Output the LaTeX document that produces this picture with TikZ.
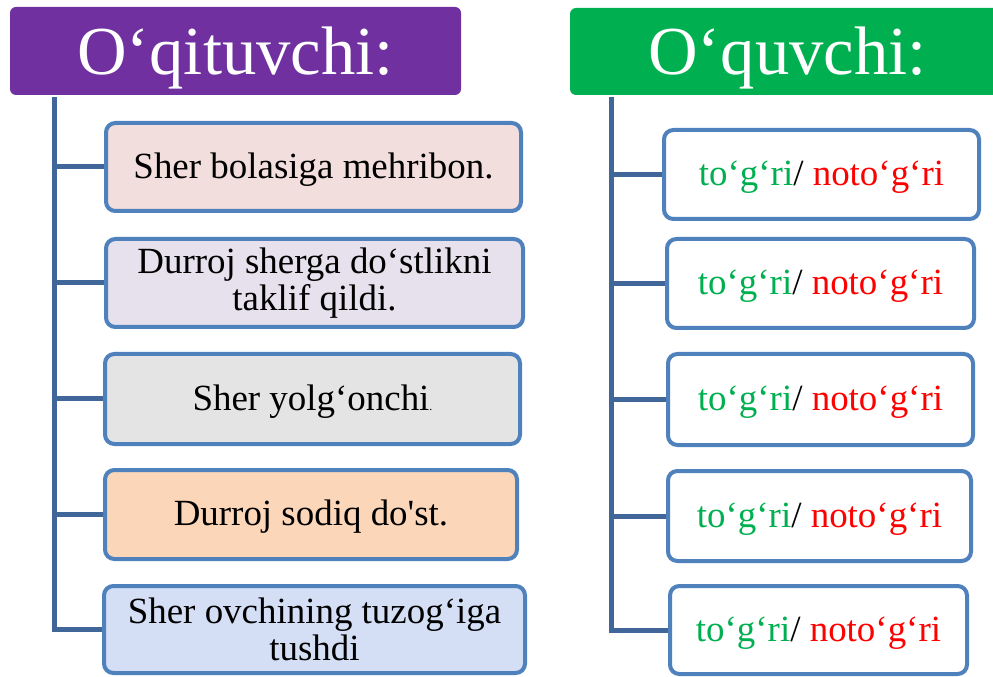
\documentclass[tikz,border=0pt]{standalone}
\usepackage{fontspec}
\setmainfont{Liberation Serif}[Ligatures=TeXOff]
\definecolor{hdrpurple}{HTML}{7030A0}
\definecolor{hdrgreen}{HTML}{00B050}
\definecolor{boxborder}{HTML}{4F81BD}
\definecolor{treeline}{HTML}{41679A}
\definecolor{fillpink}{HTML}{F2DEDD}
\definecolor{filllav}{HTML}{E6E1EC}
\definecolor{fillmarble}{HTML}{E4E4E4}
\definecolor{fillpeach}{HTML}{FBD6B9}
\definecolor{fillblue}{HTML}{D4DEF4}
\definecolor{okgreen}{HTML}{00B050}
\definecolor{badred}{HTML}{FF0000}
\begin{document}
\begin{tikzpicture}[x=0.75pt,y=-0.75pt,
  header/.style={fill=#1, rounded corners=4.5pt, text=white, inner sep=0pt,
    font=\fontsize{51.5}{56}\selectfont, text height=35pt, text depth=0pt},
  sz/.style 2 args={minimum width=#1*0.75pt, minimum height=#2*0.75pt},
  item/.style={draw=boxborder, line width=3pt, rounded corners=7pt, fill=#1,
    inner sep=0pt, align=center, font=\fontsize{27.7}{28.2}\selectfont},
  oneline/.style={text height=17pt, text depth=0pt},
  tree/.style={draw=treeline, line width=3.75pt}
]
\clip (0,0) rectangle (993,677);
% headers
\node[header=hdrpurple, sz={451}{88}] (hl) at (235.5,51) {O‘qituvchi:};
\node[header=hdrgreen, sz={435}{87}] (hr) at (787.5,51.5) {O‘quvchi:};
% left boxes
\node[item=fillpink, sz={415}{88}, oneline] (l1) at (313.5,167) {Sher bolasiga mehribon.};
\node[item=filllav, sz={417}{88}] (l2) at (314.5,283) {Durroj sherga do‘stlikni\\taklif qildi.};
\node[item=fillmarble, sz={415}{90}, oneline] (l3) at (312.5,399) {Sher yolg‘onchi{\fontsize{9}{10}\selectfont.}};
\node[item=fillpeach, sz={412}{89}, oneline] (l4) at (311,514.5) {Durroj sodiq do'st.};
\node[item=fillblue, sz={421}{87}] (l5) at (314.5,629.5) {Sher ovchining tuzog‘iga\\tushdi};
% right boxes
\newcommand{\tgnt}{\textcolor{okgreen}{to‘g‘ri}/ \textcolor{badred}{noto‘g‘ri}}
\node[item=white, sz={315}{89}, oneline] (r1) at (821.5,174.5) {\tgnt};
\node[item=white, sz={307}{89}, oneline] (r2) at (820.5,283.5) {\tgnt};
\node[item=white, sz={305}{91}, oneline] (r3) at (820.5,399.5) {\tgnt};
\node[item=white, sz={303}{90}, oneline] (r4) at (819.5,516) {\tgnt};
\node[item=white, sz={297}{88}, oneline] (r5) at (818.5,630) {\tgnt};
% tree lines
\coordinate (ltop) at (54,97);
\coordinate (rtop) at (611,97);
\draw[tree] (ltop) |- (l5.west);
\foreach \i in {1,2,3,4} {\draw[tree] (ltop |- l\i.west) -- (l\i.west);}
\draw[tree] (rtop) |- (r5.west);
\foreach \i in {1,2,3,4} {\draw[tree] (rtop |- r\i.west) -- (r\i.west);}
\end{tikzpicture}
\end{document}
